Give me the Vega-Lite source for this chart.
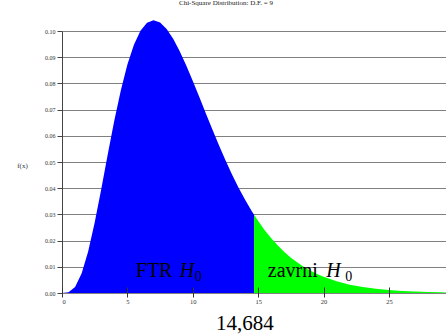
{
  "$schema": "https://vega.github.io/schema/vega-lite/v6.json",
  "width": 384,
  "height": 262,
  "autosize": {"type": "none"},
  "padding": {"left": 62, "top": 31, "right": 0, "bottom": 41},
  "background": "white",
  "config": {"view": {"stroke": null}},
  "title": {"text": "Chi-Square Distribution: D.F. = 9", "font": "Liberation Serif", "fontSize": 7, "fontWeight": "normal", "color": "#222", "dx": -28, "offset": 14},
  "datasets": {
    "curve": [
      {"x": 0, "y": 0, "region": "FTR"},
      {"x": 0.5, "y": 0.000262, "region": "FTR"},
      {"x": 1, "y": 0.002305, "region": "FTR"},
      {"x": 1.5, "y": 0.007419, "region": "FTR"},
      {"x": 2, "y": 0.015814, "region": "FTR"},
      {"x": 2.5, "y": 0.026894, "region": "FTR"},
      {"x": 3, "y": 0.039647, "region": "FTR"},
      {"x": 3.5, "y": 0.052961, "region": "FTR"},
      {"x": 4, "y": 0.065819, "region": "FTR"},
      {"x": 4.5, "y": 0.077412, "region": "FTR"},
      {"x": 5, "y": 0.087174, "region": "FTR"},
      {"x": 5.5, "y": 0.094774, "region": "FTR"},
      {"x": 6, "y": 0.100087, "region": "FTR"},
      {"x": 6.5, "y": 0.10315, "region": "FTR"},
      {"x": 7, "y": 0.104121, "region": "FTR"},
      {"x": 7.5, "y": 0.103239, "region": "FTR"},
      {"x": 8, "y": 0.100781, "region": "FTR"},
      {"x": 8.5, "y": 0.097038, "region": "FTR"},
      {"x": 9, "y": 0.092311, "region": "FTR"},
      {"x": 9.5, "y": 0.086869, "region": "FTR"},
      {"x": 10, "y": 0.080958, "region": "FTR"},
      {"x": 10.5, "y": 0.074791, "region": "FTR"},
      {"x": 11, "y": 0.068547, "region": "FTR"},
      {"x": 11.5, "y": 0.062371, "region": "FTR"},
      {"x": 12, "y": 0.056377, "region": "FTR"},
      {"x": 12.5, "y": 0.05065, "region": "FTR"},
      {"x": 13, "y": 0.045249, "region": "FTR"},
      {"x": 13.5, "y": 0.040218, "region": "FTR"},
      {"x": 14, "y": 0.035573, "region": "FTR"},
      {"x": 14.5, "y": 0.031324, "region": "FTR"},
      {"x": 14.684, "y": 0.029863, "region": "FTR"},
      {"x": 14.684, "y": 0.029863, "region": "zavrni"},
      {"x": 15, "y": 0.027469, "region": "zavrni"},
      {"x": 15.5, "y": 0.023994, "region": "zavrni"},
      {"x": 16, "y": 0.020883, "region": "zavrni"},
      {"x": 16.5, "y": 0.018113, "region": "zavrni"},
      {"x": 17, "y": 0.01566, "region": "zavrni"},
      {"x": 17.5, "y": 0.013499, "region": "zavrni"},
      {"x": 18, "y": 0.011602, "region": "zavrni"},
      {"x": 18.5, "y": 0.009945, "region": "zavrni"},
      {"x": 19, "y": 0.008503, "region": "zavrni"},
      {"x": 19.5, "y": 0.007253, "region": "zavrni"},
      {"x": 20, "y": 0.006171, "region": "zavrni"},
      {"x": 21, "y": 0.00444, "region": "zavrni"},
      {"x": 22, "y": 0.003169, "region": "zavrni"},
      {"x": 23, "y": 0.002246, "region": "zavrni"},
      {"x": 24, "y": 0.001581, "region": "zavrni"},
      {"x": 25, "y": 0.001106, "region": "zavrni"},
      {"x": 26, "y": 0.00077, "region": "zavrni"},
      {"x": 27, "y": 0.000533, "region": "zavrni"},
      {"x": 28, "y": 0.000367, "region": "zavrni"},
      {"x": 29, "y": 0.000252, "region": "zavrni"},
      {"x": 29.36, "y": 0.00022, "region": "zavrni"}
    ],
    "labels": [
      {"x": 5.64, "y": 0.0062, "text": "FTR", "kind": "plain"},
      {"x": 9.0, "y": 0.0062, "text": "H", "kind": "italic"},
      {"x": 10.15, "y": 0.0047, "text": "0", "kind": "sub"},
      {"x": 15.74, "y": 0.0062, "text": "zavrni", "kind": "plain"},
      {"x": 20.2, "y": 0.0062, "text": "H", "kind": "italic"},
      {"x": 21.65, "y": 0.0047, "text": "0", "kind": "sub"},
      {"x": 13.98, "y": -0.0141, "text": "14,684", "kind": "crit"}
    ]
  },
  "layer": [
    {
      "data": {"name": "curve"},
      "mark": {"type": "area", "interpolate": "linear", "opacity": 1},
      "encoding": {
        "x": {"field": "x", "type": "quantitative",
          "scale": {"domain": [0, 29.36], "nice": false, "zero": false},
          "axis": {"title": null, "values": [0, 5, 10, 15, 20, 25], "tickCount": 20, "domain": false, "grid": false,
            "tickSize": 10, "offset": -6, "tickColor": "#333", "tickWidth": 1,
            "labelFont": "Liberation Serif", "labelFontSize": 6.5, "labelColor": "#333", "labelPadding": 1, "zindex": 1}},
        "y": {"field": "y", "type": "quantitative", "stack": null,
          "scale": {"domain": [0, 0.1], "nice": false},
          "axis": {"title": "f(x)", "values": [0, 0.01, 0.02, 0.03, 0.04, 0.05, 0.06, 0.07, 0.08, 0.09, 0.1], "tickCount": 20, "format": ".2f",
            "labelOverlap": false, "labelBound": false,
            "grid": true, "gridColor": "#808080", "gridWidth": 1, "gridOpacity": 1,
            "domain": true, "domainColor": "#444", "tickColor": "#444", "tickSize": 5, "labelPadding": 2,
            "labelFont": "Liberation Serif", "labelFontSize": 6, "labelColor": "#333",
            "titleFont": "Liberation Serif", "titleFontSize": 7, "titleFontWeight": "normal", "titleColor": "#333",
            "titleAngle": 0, "titleX": -40, "titleY": 134, "titleAlign": "center", "titleBaseline": "middle"}},
        "color": {"field": "region", "type": "nominal", "scale": {"domain": ["FTR", "zavrni"], "range": ["#0000FF", "#00FF00"]}, "legend": null}
      }
    },
    {
      "data": {"name": "labels"},
      "transform": [{"filter": "datum.kind == 'plain'"}],
      "mark": {"type": "text", "font": "Liberation Serif", "fontSize": 20, "align": "left", "baseline": "alphabetic", "color": "black"},
      "encoding": {"x": {"field": "x", "type": "quantitative"}, "y": {"field": "y", "type": "quantitative"}, "text": {"field": "text"}}
    },
    {
      "data": {"name": "labels"},
      "transform": [{"filter": "datum.kind == 'italic'"}],
      "mark": {"type": "text", "font": "Liberation Serif", "fontSize": 20, "fontStyle": "italic", "align": "left", "baseline": "alphabetic", "color": "black"},
      "encoding": {"x": {"field": "x", "type": "quantitative"}, "y": {"field": "y", "type": "quantitative"}, "text": {"field": "text"}}
    },
    {
      "data": {"name": "labels"},
      "transform": [{"filter": "datum.kind == 'sub'"}],
      "mark": {"type": "text", "font": "Liberation Serif", "fontSize": 14, "align": "left", "baseline": "alphabetic", "color": "black"},
      "encoding": {"x": {"field": "x", "type": "quantitative"}, "y": {"field": "y", "type": "quantitative"}, "text": {"field": "text"}}
    },
    {
      "data": {"name": "labels"},
      "transform": [{"filter": "datum.kind == 'crit'"}],
      "mark": {"type": "text", "font": "Liberation Serif", "fontSize": 21, "align": "center", "baseline": "alphabetic", "color": "black"},
      "encoding": {"x": {"field": "x", "type": "quantitative"}, "y": {"field": "y", "type": "quantitative"}, "text": {"field": "text"}}
    }
  ]
}
